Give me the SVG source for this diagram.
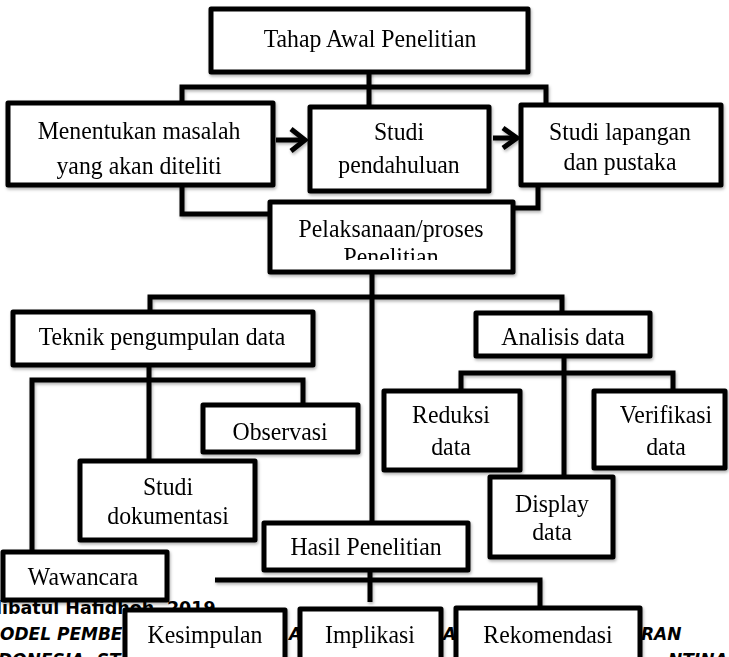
<svg xmlns="http://www.w3.org/2000/svg" width="729" height="657" viewBox="0 0 729 657">
<defs>
<filter id="sh" x="-10%" y="-10%" width="130%" height="130%">
<feDropShadow dx="1" dy="2" stdDeviation="1.5" flood-color="#000" flood-opacity="0.3"/>
</filter>
<clipPath id="clipPel"><rect x="270" y="202" width="243" height="58"/></clipPath>
<clipPath id="clipAna"><rect x="476" y="313" width="174" height="32"/></clipPath>
</defs>
<style>
.box{fill:#fff;stroke:#000;stroke-width:5;stroke-linejoin:round}
.ln{fill:none;stroke:#000;stroke-width:5;stroke-linejoin:miter}
.t{font-family:"Liberation Serif","Times New Roman",serif;font-size:26px;fill:#000;text-anchor:middle}
.bg{font-family:"DejaVu Sans",sans-serif;font-size:17.5px;font-weight:bold;fill:#000}
.bgi{font-family:"DejaVu Sans",sans-serif;font-size:17px;font-weight:bold;font-style:italic;fill:#000}
</style>
<rect width="729" height="657" fill="#fff"/>
<g id="background-text">
<text class="bg" x="-4" y="614">libatul Hafidhoh, 2019</text>
<text class="bgi" x="0" y="640">ODEL PEMBE</text>
<text class="bgi" x="289" y="640">A</text>
<text class="bgi" x="443" y="640">AY</text>
<text class="bgi" x="641" y="640">RAN</text>
<text class="bgi" x="-2" y="666">DONESIA, ST</text>
<text class="bgi" x="668" y="666">NTINA</text>
</g>
<g id="connectors" filter="url(#sh)">
<polyline class="ln" points="369,72 369,107"/>
<polyline class="ln" points="182,103 182,87 546,87 546,105"/>
<polyline class="ln" points="182,185 182,214 270,214"/>
<polyline class="ln" points="538,185 538,208 513,208"/>
<line class="ln" x1="276" y1="140" x2="304" y2="140"/>
<polyline class="ln" points="291,129 305,140 291,151"/>
<line class="ln" x1="493" y1="138" x2="516" y2="138"/>
<polyline class="ln" points="503,128 517,138 503,148"/>
<polyline class="ln" points="372,272 372,523"/>
<polyline class="ln" points="150,312 150,297 562,297 562,313"/>
<polyline class="ln" points="149,365 149,462"/>
<polyline class="ln" points="32,552 32,380 303,380 303,405"/>
<polyline class="ln" points="564,356 564,477"/>
<polyline class="ln" points="461,391 461,373 673,373 673,391"/>
<polyline class="ln" points="370,570 370,602"/>
<polyline class="ln" points="215,580 540,580 540,608"/>
</g>
<g id="tahap" filter="url(#sh)">
<rect class="box" x="211" y="9" width="317" height="63"/>
<text class="t" transform="translate(370,47) scale(0.915,1)">Tahap Awal Penelitian</text>
</g>
<g id="menentukan" filter="url(#sh)">
<rect class="box" x="8" y="103" width="265" height="82"/>
<text class="t" transform="translate(139,139) scale(0.915,1)">Menentukan masalah</text>
<text class="t" transform="translate(139,174) scale(0.915,1)">yang akan diteliti</text>
</g>
<g id="studi-pendahuluan" filter="url(#sh)">
<rect class="box" x="310" y="107" width="179" height="84"/>
<text class="t" transform="translate(399,140) scale(0.915,1)">Studi</text>
<text class="t" transform="translate(399,173) scale(0.915,1)">pendahuluan</text>
</g>
<g id="studi-lapangan" filter="url(#sh)">
<rect class="box" x="521" y="105" width="200" height="80"/>
<text class="t" transform="translate(620,140) scale(0.915,1)">Studi lapangan</text>
<text class="t" transform="translate(620,170) scale(0.915,1)">dan pustaka</text>
</g>
<g id="pelaksanaan" filter="url(#sh)">
<rect class="box" x="270" y="202" width="243" height="70"/>
<g clip-path="url(#clipPel)">
<text class="t" transform="translate(391,237) scale(0.915,1)">Pelaksanaan/proses</text>
<text class="t" transform="translate(391,265) scale(0.915,1)">Penelitian</text>
</g>
</g>
<g id="teknik" filter="url(#sh)">
<rect class="box" x="13" y="312" width="300" height="53"/>
<text class="t" transform="translate(162,345) scale(0.915,1)">Teknik pengumpulan data</text>
</g>
<g id="analisis" filter="url(#sh)">
<rect class="box" x="476" y="313" width="174" height="43"/>
<g clip-path="url(#clipAna)">
<text class="t" transform="translate(563,345) scale(0.915,1)">Analisis data</text>
</g>
</g>
<g id="observasi" filter="url(#sh)">
<rect class="box" x="203" y="405" width="155" height="47"/>
<text class="t" transform="translate(280,440) scale(0.915,1)">Observasi</text>
</g>
<g id="reduksi" filter="url(#sh)">
<rect class="box" x="384" y="391" width="136" height="79"/>
<text class="t" transform="translate(451,423) scale(0.915,1)">Reduksi</text>
<text class="t" transform="translate(451,455) scale(0.915,1)">data</text>
</g>
<g id="verifikasi" filter="url(#sh)">
<rect class="box" x="594" y="391" width="131" height="77"/>
<text class="t" transform="translate(666,423) scale(0.915,1)">Verifikasi</text>
<text class="t" transform="translate(666,455) scale(0.915,1)">data</text>
</g>
<g id="studi-dokumentasi" filter="url(#sh)">
<rect class="box" x="80" y="461" width="175" height="79"/>
<text class="t" transform="translate(168,495) scale(0.915,1)">Studi</text>
<text class="t" transform="translate(168,524) scale(0.915,1)">dokumentasi</text>
</g>
<g id="display" filter="url(#sh)">
<rect class="box" x="490" y="477" width="123" height="80"/>
<text class="t" transform="translate(552,512) scale(0.915,1)">Display</text>
<text class="t" transform="translate(552,540) scale(0.915,1)">data</text>
</g>
<g id="hasil" filter="url(#sh)">
<rect class="box" x="264" y="523" width="204" height="47"/>
<text class="t" transform="translate(366,555) scale(0.915,1)">Hasil Penelitian</text>
</g>
<g id="wawancara" filter="url(#sh)">
<rect class="box" x="3" y="552" width="164" height="48"/>
<text class="t" transform="translate(83,585) scale(0.915,1)">Wawancara</text>
</g>
<g id="kesimpulan" filter="url(#sh)">
<rect class="box" x="125" y="610" width="160" height="60"/>
<text class="t" transform="translate(205,643) scale(0.915,1)">Kesimpulan</text>
</g>
<g id="implikasi" filter="url(#sh)">
<rect class="box" x="300" y="609" width="141" height="60"/>
<text class="t" transform="translate(370,643) scale(0.915,1)">Implikasi</text>
</g>
<g id="rekomendasi" filter="url(#sh)">
<rect class="box" x="456" y="608" width="184" height="60"/>
<text class="t" transform="translate(548,643) scale(0.915,1)">Rekomendasi</text>
</g>
</svg>
